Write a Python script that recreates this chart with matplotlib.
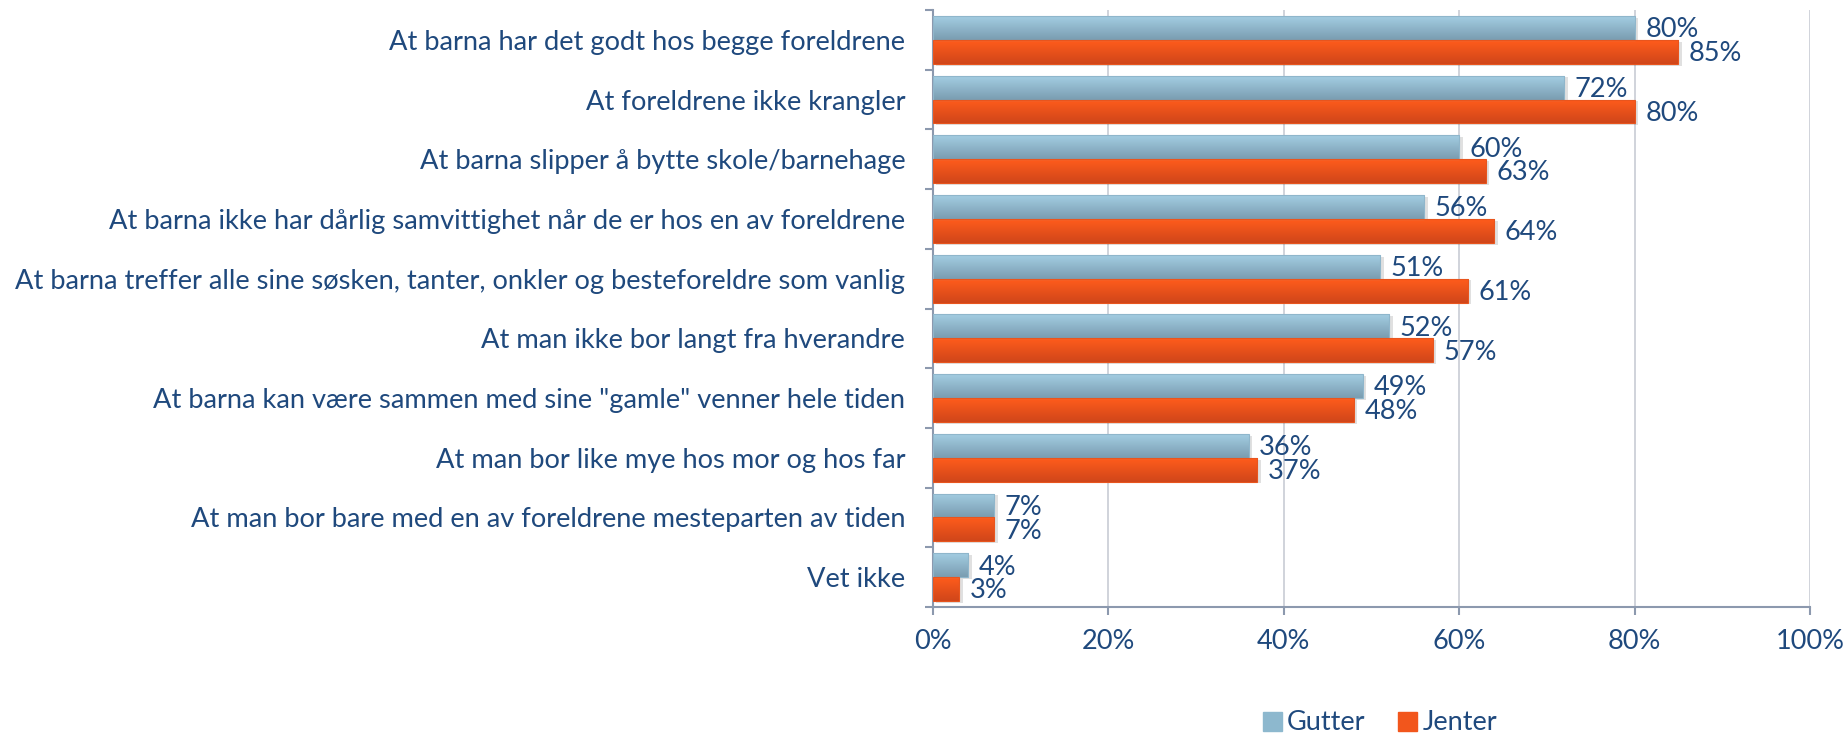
import numpy as np
import matplotlib.pyplot as plt
from matplotlib.colors import LinearSegmentedColormap
from matplotlib.patches import Patch

# data
kategorier = ['At barna har det godt hos begge foreldrene',
              'At foreldrene ikke krangler',
              'At barna slipper å bytte skole/barnehage',
              'At barna ikke har dårlig samvittighet når de er hos en av foreldrene',
              'At barna treffer alle sine søsken, tanter, onkler og besteforeldre som vanlig',
              'At man ikke bor langt fra hverandre',
              'At barna kan være sammen med sine "gamle" venner hele tiden',
              'At man bor like mye hos mor og hos far',
              'At man bor bare med en av foreldrene mesteparten av tiden',
              'Vet ikke']
gutter = [80, 72, 60, 56, 51, 52, 49, 36, 7, 4]
jenter = [85, 80, 63, 64, 61, 57, 48, 37, 7, 3]
serier = ['Gutter', 'Jenter']

tekst = '#1F497D'
plt.rcParams['font.family'] = ['Lato', 'DejaVu Sans']

fig = plt.figure(figsize=(18.47, 7.34), dpi=100)
ax = fig.add_axes([0.5051, 0.173, 0.4749, 0.8134])

y = np.arange(len(kategorier))
h = 0.4
cm_g = LinearSegmentedColormap.from_list('g', ['#A3CDE2', '#7A9DB1'])
cm_j = LinearSegmentedColormap.from_list('j', ['#FF5C1C', '#D0461A'])

for vals, off, cm, kant in [(gutter, -h/2, cm_g, '#8FB6CB'), (jenter, h/2, cm_j, '#E8551E')]:
    # skygge
    ax.barh(y + off + 0.03, vals, height=h, left=0.4, color='#000000', alpha=0.12, zorder=2)
    bars = ax.barh(y + off, vals, height=h, color='none', edgecolor=kant, linewidth=0.8, zorder=4)
    grad = np.linspace(0, 1, 50).reshape(-1, 1)
    for b in bars:
        x0, y0, w, hh = b.get_x(), b.get_y(), b.get_width(), b.get_height()
        im = ax.imshow(grad, extent=[x0, x0 + w, y0 + hh, y0], aspect='auto', cmap=cm, zorder=3)
        im.set_clip_path(b)
    for yi, v in zip(y + off, vals):
        ax.text(v + 1.2, yi + 0.03, f'{v}%', va='center', ha='left', fontsize=19.5, color=tekst, zorder=5)

ax.set_xlim(0, 100)
ax.set_ylim(len(kategorier) - 0.5, -0.5)
ax.set_xticks(np.arange(0, 101, 20))
ax.set_xticklabels([f'{t}%' for t in range(0, 101, 20)])
ax.set_yticks(y)
ax.set_yticklabels(kategorier)
ax.set_yticks(np.arange(-0.5, len(kategorier)), minor=True)
ax.tick_params(axis='y', which='major', length=0, pad=20, labelsize=19.6, labelcolor=tekst)
ax.tick_params(axis='y', which='minor', length=6, width=1.5, color='#8C99AE')
ax.tick_params(axis='x', length=6, width=1.5, color='#8C99AE', pad=10, labelsize=19.5, labelcolor=tekst)
ax.grid(axis='x', color='#C8CCD4', linewidth=1.2, zorder=0)
ax.set_axisbelow(True)
for s in ['top', 'right']:
    ax.spines[s].set_visible(False)
for s in ['left', 'bottom']:
    ax.spines[s].set_color('#8C99AE')
    ax.spines[s].set_linewidth(1.5)

handles = [Patch(facecolor='#8DB8CE', edgecolor='#8DB8CE'), Patch(facecolor='#F2561C', edgecolor='#F2561C')]
fig.legend(handles, serier, loc='center', bbox_to_anchor=(1380 / 1847, 1 - 723 / 734), ncol=2, frameon=False,
           fontsize=19.5, labelcolor=tekst, handlelength=0.7, handleheight=0.7, handletextpad=0.2, columnspacing=1.2)

fig.savefig('out.png', dpi=100)
